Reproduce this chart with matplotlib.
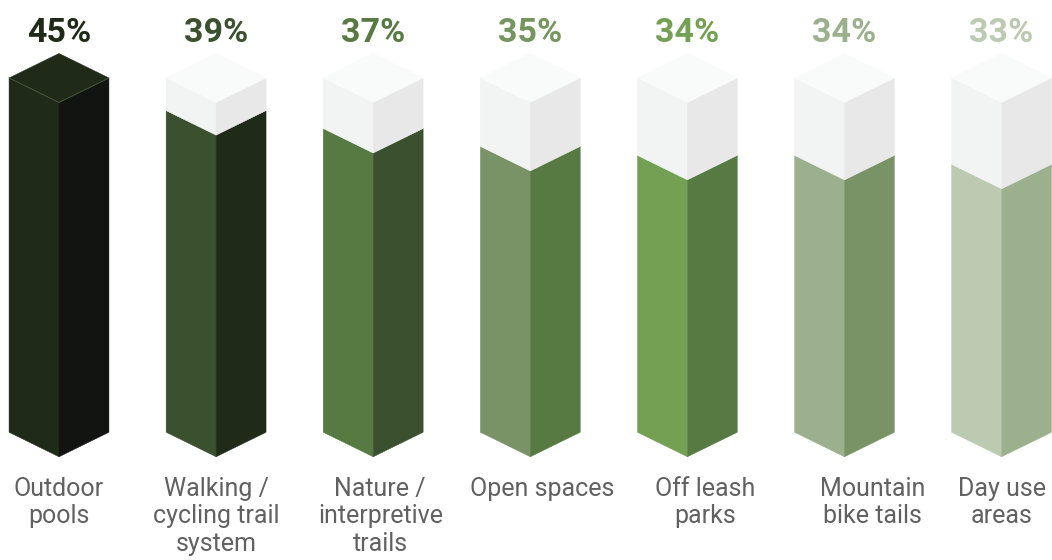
import matplotlib
matplotlib.use('Agg')
import matplotlib.pyplot as plt
from matplotlib.patches import Polygon

plt.rcParams['font.family'] = ['Roboto', 'DejaVu Sans']

categories = ["Outdoor\npools", "Walking /\ncycling trail\nsystem",
              "Nature /\ninterpretive\ntrails", "Open spaces",
              "Off leash\nparks", "Mountain\nbike tails", "Day use\nareas"]
values = [45, 39, 37, 35, 34, 34, 33]

# face colours per bar: (left face, right face)
LEFT = ["#1f2a18", "#3a502e", "#567a41", "#7a9366", "#74a054", "#9cb08e", "#bccab2"]
RIGHT = ["#111411", "#1f2a18", "#3a502e", "#567a41", "#567a41", "#7a9366", "#9cb08e"]
TEXT = ["#1f2a18", "#3a502e", "#567a41", "#75955f", "#74a054", "#9cb08e", "#bccab2"]
EMPTY_LEFT, EMPTY_RIGHT, EMPTY_TOP = "#f2f3f3", "#e8e8e8", "#f9fafa"

FLOOR = 3.06     # value at the bottom of the blocks
CAP = 42.65      # value at the top of the blocks (bars are clipped here)
HALF_W = 0.318   # half width of a block in category units
DEPTH = 2.74     # isometric drop, in value units
LABEL_SHIFT = [0, 0, 0.045, 0.077, 0.112, 0.181, 0]

fig = plt.figure(figsize=(10.52, 5.6), dpi=100)
ax = fig.add_axes([0, 0, 1, 1])
ax.set_xlim(-0.3756, 6.321)
ax.set_ylim(-11.21, 51.36)
ax.axis('off')


def block(ax, c, b, t, left, right, top=None):
    w, d = HALF_W, DEPTH
    ax.add_patch(Polygon([(c - w, b), (c, b - d), (c, t - d), (c - w, t)],
                         closed=True, facecolor=left, edgecolor=left, lw=0.3))
    ax.add_patch(Polygon([(c, b - d), (c + w, b), (c + w, t), (c, t - d)],
                         closed=True, facecolor=right, edgecolor=right, lw=0.3))
    if top is not None:
        ax.add_patch(Polygon([(c - w, t), (c, t - d), (c + w, t), (c, t + d)],
                             closed=True, facecolor=top, edgecolor=top, lw=0.3))


for i, (cat, v) in enumerate(zip(categories, values)):
    h = min(v, CAP)
    if h < CAP:
        block(ax, i, FLOOR, h, LEFT[i], RIGHT[i])
        block(ax, i, h, CAP, EMPTY_LEFT, EMPTY_RIGHT, EMPTY_TOP)
    else:
        block(ax, i, FLOOR, h, LEFT[i], RIGHT[i], LEFT[i])
        # faint edges on the solid top
        w, d = HALF_W, DEPTH
        ax.plot([i - w, i, i + w], [h, h - d, h], color="#4a5a3c", lw=0.6)
    ax.text(i, 46.65, f"{v}%", ha='center', va='baseline', fontsize=24.5,
            fontweight='bold', color=TEXT[i])
    ax.text(i + LABEL_SHIFT[i], -1.95, cat, ha='center', va='top', fontsize=18,
            color="#616161", linespacing=1.17)

fig.savefig("out.png", dpi=100, facecolor="white")
